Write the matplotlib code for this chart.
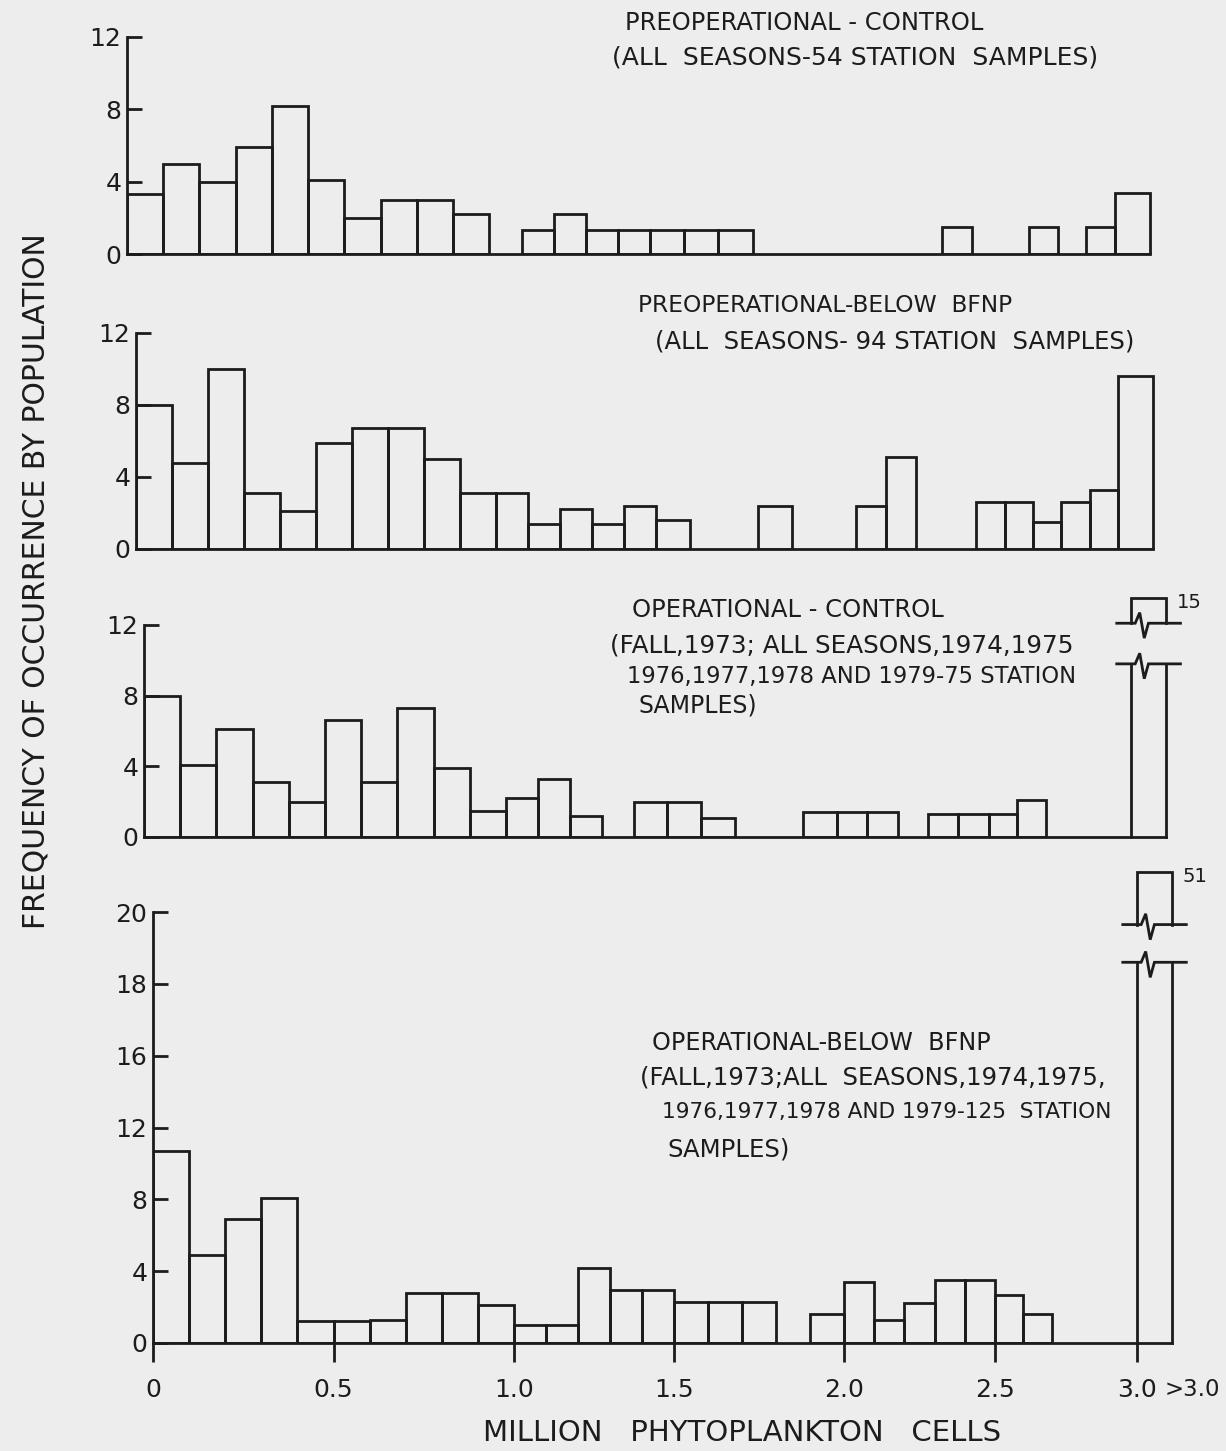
import numpy as np
import matplotlib.pyplot as plt

W, H = 1226, 1451
INK = '#1c1c1c'
PAPER = '#ededed'
LW = 2.0

plt.rcParams['font.family'] = ['DejaVu Sans']
plt.rcParams['text.color'] = INK
plt.rcParams['axes.edgecolor'] = INK
plt.rcParams['xtick.color'] = INK
plt.rcParams['ytick.color'] = INK

# 0.1 million-cell classes from 0 to 3.0, then one ">3.0" class
bin_left = np.round(np.arange(0.0, 3.0, 0.1), 1)
over_left = 3.0
OVER_W = 0.12

# frequencies, class 0-0.1 ... 2.9-3.0
pre_control = [3.3, 5.0, 4.0, 5.9, 8.2, 4.1, 2.0, 3.0, 3.0, 2.2,
               0, 1.3, 2.2, 1.3, 1.3, 1.3, 1.3, 1.3, 0, 0,
               0, 0, 0, 0, 1.5, 0, 0, 1.5, 0, 1.5]
pre_control_over = 3.4

pre_below = [8.0, 4.8, 10.0, 3.1, 2.1, 5.9, 6.7, 6.7, 5.0, 3.1,
             3.1, 1.4, 2.2, 1.4, 2.4, 1.6, 0, 0, 2.4, 0,
             0, 2.4, 5.1, 0, 0, 2.6, 2.6, 1.5, 2.6, 3.3]
pre_below_over = 9.6

op_control = [8.0, 4.1, 6.1, 3.1, 2.0, 6.6, 3.1, 7.3, 3.9, 1.5,
              2.2, 3.3, 1.2, 0, 2.0, 2.0, 1.1, 0, 0, 1.4,
              1.4, 1.4, 0, 1.3, 1.3, 1.3, 2.1, 0, 0, 0]
op_control_over = 15

op_below = [10.7, 4.9, 6.9, 8.1, 1.2, 1.2, 1.3, 2.8, 2.8, 2.1,
            1.0, 1.0, 4.2, 2.95, 2.95, 2.3, 2.3, 2.3, 0, 1.6,
            3.4, 1.3, 2.2, 3.5, 3.5, 2.7, 1.6, 0, 0, 0]
op_below_over = 51

titles = [
    ["PREOPERATIONAL - CONTROL", "(ALL  SEASONS-54 STATION  SAMPLES)"],
    ["PREOPERATIONAL-BELOW  BFNP", "(ALL  SEASONS- 94 STATION  SAMPLES)"],
    ["OPERATIONAL - CONTROL", "(FALL,1973; ALL SEASONS,1974,1975",
     "1976,1977,1978 AND 1979-75 STATION", "SAMPLES)"],
    ["OPERATIONAL-BELOW  BFNP", "(FALL,1973;ALL  SEASONS,1974,1975,",
     "1976,1977,1978 AND 1979-125  STATION", "SAMPLES)"],
]
# left x, centre y (pixels) and font size of each title line
title_pos = [
    [(625, 23), (612, 57)],
    [(638, 306), (655, 342)],
    [(632, 610), (610, 645), (627, 676), (638, 706)],
    [(652, 1043), (640, 1078), (662, 1112), (667, 1150)],
]
title_size = [
    [17.5, 18.0],
    [16.8, 17.5],
    [17.5, 17.8, 16.3, 17.0],
    [17.2, 17.6, 15.6, 17.6],
]

# the hand-drawn x axis is not quite uniform
XV = [-1.0, 0.0, 1.0, 1.5, 2.0, 2.5, 3.0, 4.0]
XP = [-361.0, 0.0, 361.0, 521.0, 691.0, 842.0, 984.0, 1274.0]
XMAX = 3.3


def fwd_x(v):
    return np.interp(v, XV, XP)


def inv_x(p):
    return np.interp(p, XP, XV)


# bottom panel: 0-16 by fours, then 16-20 by twos at the same spacing
def fwd_y(v):
    v = np.asarray(v, dtype=float)
    return np.where(v <= 16, v, 16 + 2 * (v - 16))


def inv_y(p):
    p = np.asarray(p, dtype=float)
    return np.where(p <= 16, p, 16 + (p - 16) / 2)


fig = plt.figure(figsize=(W / 100, H / 100), dpi=100, facecolor=PAPER)


def make_axes(spine, three, base, top_px, top_t, ymax_t):
    kx = (three - spine) / fwd_x(3.0)
    ky = (base - top_px) / top_t
    w = fwd_x(XMAX) * kx
    h = ymax_t * ky
    ax = fig.add_axes([spine / W, 1 - base / H, w / W, h / H])
    ax.set_facecolor('none')
    ax.set_xscale('function', functions=(fwd_x, inv_x))
    ax.set_xlim(0, XMAX)
    for s in ['top', 'right']:
        ax.spines[s].set_visible(False)
    ax.spines['left'].set_linewidth(LW)
    ax.spines['bottom'].set_linewidth(LW)
    ax.spines['bottom'].set_bounds(0, over_left + OVER_W)
    ax.tick_params(axis='y', direction='in', length=11, width=LW,
                   labelsize=18, pad=4)
    return ax


def draw_hist(ax, values, over):
    vals = np.array(values, dtype=float)
    keep = vals > 0
    ax.bar(bin_left[keep], vals[keep], width=0.1, align='edge', fill=False,
           edgecolor=INK, linewidth=LW)
    if over is not None:
        ax.bar(over_left, over, width=OVER_W, align='edge', fill=False,
               edgecolor=INK, linewidth=LW)


def broken_bar(ax, value, y_low, y_high, y_top, zig, ext=0.05):
    x0, x1 = over_left, over_left + OVER_W
    w = x1 - x0
    kw = dict(color=INK, lw=LW, clip_on=False, solid_joinstyle='miter')

    def zigzag(y):
        xs = [x0 - ext, x0 + 0.12 * w, x0 + 0.25 * w, x0 + 0.38 * w,
              x0 + 0.5 * w, x1 + ext]
        ys = [y, y, y + zig, y - 1.4 * zig, y, y]
        return xs, ys

    ax.plot([x0, x0], [0, y_low], **kw)
    ax.plot([x1, x1], [0, y_low], **kw)
    ax.plot(*zigzag(y_low), **kw)
    ax.plot(*zigzag(y_high), **kw)
    ax.plot([x0, x0, x1, x1], [y_high, y_top, y_top, y_high], **kw)
    ax.annotate(f'{value:g}', xy=(x1, y_top), xytext=(8, 4),
                textcoords='offset points', ha='left', va='top',
                fontsize=14)


# panel 1
ax1 = make_axes(127, 1115, 254, 37, 12, 12.6)
ax1.set_ylim(0, 12.6)
ax1.spines['left'].set_bounds(0, 12)
ax1.set_yticks([0, 4, 8, 12])
ax1.set_xticks([])
draw_hist(ax1, pre_control, pre_control_over)

# panel 2
ax2 = make_axes(136, 1118, 549, 333, 12, 12.6)
ax2.set_ylim(0, 12.6)
ax2.spines['left'].set_bounds(0, 12)
ax2.set_yticks([0, 4, 8, 12])
ax2.set_xticks([])
draw_hist(ax2, pre_below, pre_below_over)

# panel 3
ax3 = make_axes(144, 1131, 837, 625, 12, 14.2)
ax3.set_ylim(0, 14.2)
ax3.spines['left'].set_bounds(0, 12)
ax3.set_yticks([0, 4, 8, 12])
ax3.set_xticks([])
draw_hist(ax3, op_control, None)
broken_bar(ax3, op_control_over, 9.8, 12.1, 13.5, 0.6)

# panel 4
ax4 = make_axes(153, 1137, 1343, 912, 24, 27.3)
ax4.set_yscale('function', functions=(fwd_y, inv_y))
ax4.set_ylim(0, float(inv_y(27.3)))
ax4.spines['left'].set_bounds(0, 20)
ax4.set_yticks([0, 4, 8, 12, 16, 18, 20])
ax4.set_yticklabels(['0', '4', '8', '12', '16', '18', '20'])
draw_hist(ax4, op_below, None)
broken_bar(ax4, op_below_over, 18.6, 19.65, 21.1, 0.3)

xt = [0, 0.5, 1.0, 1.5, 2.0, 2.5, 3.0]
ax4.set_xticks(xt)
ax4.set_xticklabels(['0', '0.5', '1.0', '1.5', '2.0', '2.5', '3.0'])
ax4.xaxis.set_minor_locator(plt.NullLocator())
ax4.tick_params(axis='x', direction='out', length=14, width=LW,
                labelsize=18, pad=11)
ax4.text(3.19, -2.6, '>3.0', ha='center', va='center', fontsize=16.5)

for lines, pos, sizes in zip(titles, title_pos, title_size):
    for txt, (x, y), fs in zip(lines, pos, sizes):
        fig.text(x / W, 1 - y / H, txt, ha='left', va='center', fontsize=fs)

fig.text(36 / W, 1 - 581 / H, 'FREQUENCY OF OCCURRENCE BY POPULATION',
         rotation=90, ha='center', va='center', fontsize=21.5)
fig.text(742 / W, 1 - 1433 / H, 'MILLION   PHYTOPLANKTON   CELLS',
         ha='center', va='center', fontsize=21)

fig.savefig('out.png', dpi=100, facecolor=PAPER)
